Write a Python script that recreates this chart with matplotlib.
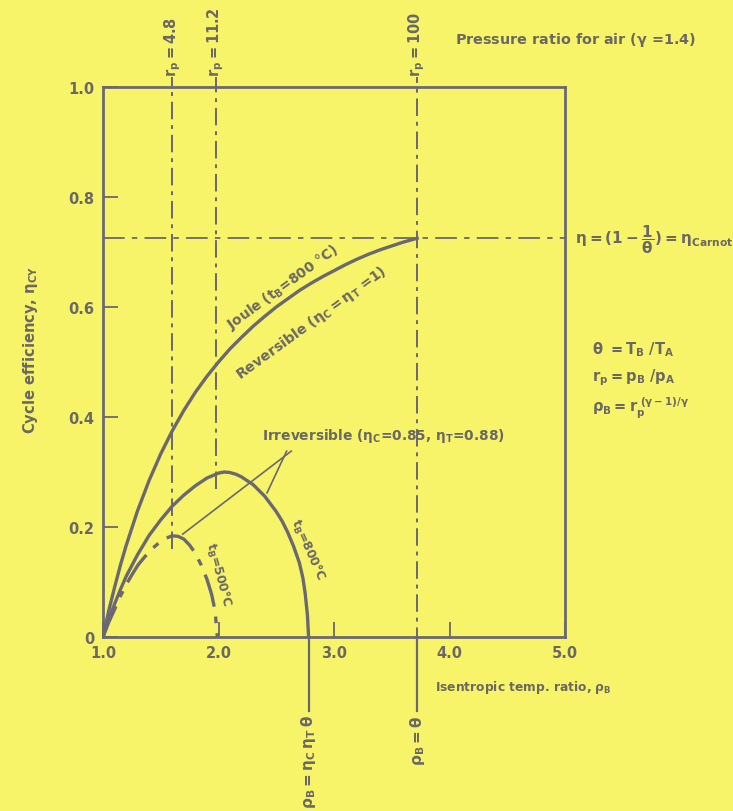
import matplotlib
matplotlib.use("Agg")
import matplotlib.pyplot as plt

# ---------------- data ----------------
# reversible Joule cycle (t_B = 800 C)
p_rev = [1.0, 1.05, 1.1, 1.15, 1.2, 1.3, 1.4, 1.5, 1.6, 1.7, 1.8, 1.9, 2.0, 2.1, 2.2, 2.3, 2.4, 2.5,
         2.6, 2.7, 2.8, 2.9, 3.0, 3.1, 3.2, 3.3, 3.4, 3.5, 3.6, 3.72]
eta_rev = [0.0, 0.048, 0.09, 0.13, 0.166, 0.23, 0.285, 0.333, 0.375, 0.412, 0.445, 0.474, 0.50, 0.524,
           0.545, 0.565, 0.583, 0.60, 0.615, 0.63, 0.643, 0.655, 0.666, 0.677, 0.687, 0.696, 0.704,
           0.711, 0.718, 0.725]

# irreversible, t_B = 800 C
p_800 = [1.0, 1.05, 1.1, 1.15, 1.2, 1.3, 1.4, 1.5, 1.6, 1.7, 1.8, 1.9, 2.0, 2.05, 2.1, 2.15, 2.2,
         2.3, 2.4, 2.5, 2.55, 2.6, 2.65, 2.7, 2.73, 2.75, 2.77, 2.78]
eta_800 = [0.0, 0.032, 0.06, 0.086, 0.11, 0.15, 0.185, 0.213, 0.238, 0.258, 0.275, 0.289, 0.298, 0.300,
           0.299, 0.296, 0.291, 0.277, 0.256, 0.228, 0.211, 0.19, 0.165, 0.135, 0.108, 0.08, 0.04, 0.0]

# irreversible, t_B = 500 C
p_500 = [1.0, 1.05, 1.1, 1.15, 1.2, 1.25, 1.3, 1.35, 1.4, 1.45, 1.5, 1.55, 1.6, 1.65, 1.7, 1.75,
         1.8, 1.85, 1.9, 1.94, 1.97, 1.99]
eta_500 = [0.0, 0.027, 0.05, 0.074, 0.095, 0.113, 0.13, 0.143, 0.155, 0.165, 0.174, 0.18, 0.184, 0.183,
           0.178, 0.167, 0.152, 0.131, 0.105, 0.078, 0.048, 0.0]

# carnot efficiency level
eta_carnot = 0.725

# pressure-ratio markers
rp_labels = ["4.8", "11.2", "100"]
rp_positions = [1.6, 1.98, 3.72]
rp_lower_ends = [0.16, 0.27, -0.135]

# bottom markers
pb_positions = [2.78, 3.72]
pb_labels = [r"$\rho_B=\eta_C\,\eta_T\,\theta$", r"$\rho_B=\theta$"]

x_ticks = [1.0, 2.0, 3.0, 4.0, 5.0]
x_ticklabels = ["1.0", "2.0", "3.0", "4.0", "5.0"]
y_ticks = [0.0, 0.2, 0.4, 0.6, 0.8, 1.0]
y_ticklabels = ["0", "0.2", "0.4", "0.6", "0.8", "1.0"]

# ---------------- style ----------------
BG = "#f8f46a"
LINE = "#6a6870"
TXT = "#6a6864"
plt.rcParams["font.family"] = ["DejaVu Sans"]
plt.rcParams["font.weight"] = "bold"
plt.rcParams["mathtext.fontset"] = "dejavusans"
plt.rcParams["mathtext.default"] = "bf"

W, H = 733, 812
fig = plt.figure(figsize=(W / 100, H / 100), dpi=100, facecolor=BG)
L, R, T, B = 103, 565, 88, 638
ax = fig.add_axes([L / W, 1 - B / H, (R - L) / W, (B - T) / H], facecolor=BG)
ax.set_xlim(1.0, 5.0)
ax.set_ylim(0.0, 1.0)

for s in ax.spines.values():
    s.set_color(LINE)
    s.set_linewidth(2.0)

ax.set_xticks(x_ticks)
ax.set_xticklabels(x_ticklabels)
ax.set_yticks(y_ticks)
ax.set_yticklabels(y_ticklabels)
ax.tick_params(direction="in", length=11, width=1.3, color=LINE,
               labelcolor=TXT, labelsize=10.5, pad=6)

dashdot = (0, (9, 3, 2, 3))

# curves
ax.plot(p_rev, eta_rev, color=LINE, lw=2.4, solid_joinstyle="round")
ax.plot(p_800, eta_800, color=LINE, lw=2.4, solid_joinstyle="round")
ax.plot(p_500, eta_500, color=LINE, lw=2.4, linestyle=(0, (10, 3, 2, 3)))

# carnot horizontal line
ax.plot([1.0, 5.0], [eta_carnot, eta_carnot], color=LINE, lw=1.3, linestyle=(0, (12, 4, 3, 4)))

# vertical r_p lines and labels
for x, lab, y0 in zip(rp_positions, rp_labels, rp_lower_ends):
    ax.plot([x, x], [y0, 1.018], color=LINE, lw=1.4, linestyle=dashdot, clip_on=False)
    ax.text(x, 1.02, r"$r_p=$" + lab, rotation=90, ha="center", va="bottom",
            color=TXT, fontsize=10.5, clip_on=False)

# bottom markers (solid below axis)
for x, lab in zip(pb_positions, pb_labels):
    ax.plot([x, x], [0.0, -0.135], color=LINE, lw=1.6, clip_on=False)
    ax.text(x, -0.14, lab, rotation=90, ha="center", va="top", color=TXT,
            fontsize=11, clip_on=False)

# texts
fig.text(455 / W, 1 - 40 / H, r"Pressure ratio for air ($\gamma$ =1.4)", color=TXT,
         fontsize=10.4, ha="left", va="center")
fig.text(575 / W, 1 - 240 / H, r"$\eta=(1-\dfrac{1}{\theta})=\eta_{Carnot}$", color=TXT,
         fontsize=11, ha="left", va="center")
fig.text(592 / W, 1 - 350 / H, r"$\theta\ =T_B\ /T_A$", color=TXT, fontsize=10.5, va="center")
fig.text(592 / W, 1 - 378 / H, r"$r_p=p_B\ /p_A$", color=TXT, fontsize=10.5, va="center")
fig.text(592 / W, 1 - 408 / H, r"$\rho_B = r_p^{\ (\gamma-1)/\gamma}$", color=TXT, fontsize=10.5,
         va="center")

fig.text(31 / W, 1 - 350 / H, r"Cycle efficiency, $\eta_{CY}$", rotation=90, color=TXT,
         fontsize=10.6, ha="center", va="center")
fig.text(435 / W, 1 - 688 / H, r"Isentropic temp. ratio, $\rho_B$", color=TXT,
         fontsize=8.8, ha="left", va="center")

# curve labels
ax.text(2.555, 0.638, r"Joule ($t_B$=800 $\degree$C)", rotation=36, rotation_mode="anchor",
        ha="center", va="center", color=TXT, fontsize=9.9)
ax.text(2.80, 0.572, r"Reversible ($\eta_C=\eta_T$ =1)", rotation=36, rotation_mode="anchor",
        ha="center", va="center", color=TXT, fontsize=10.2)
ax.text(2.775, 0.16, r"$t_B$=800$\degree$C", rotation=-66, rotation_mode="anchor",
        ha="center", va="center", color=TXT, fontsize=9)
ax.text(1.995, 0.115, r"$t_B$=500$\degree$C", rotation=-75, rotation_mode="anchor",
        ha="center", va="center", color=TXT, fontsize=9)

# irreversible annotation
ax.text(2.38, 0.367, r"Irreversible ($\eta_C$=0.85, $\eta_T$=0.88)", color=TXT,
        fontsize=9.9, ha="left", va="center")
ax.plot([2.63, 1.69], [0.338, 0.187], color=LINE, lw=1.2)
ax.plot([2.59, 2.42], [0.338, 0.262], color=LINE, lw=1.2)

fig.savefig("out.png", dpi=100, facecolor=BG)
